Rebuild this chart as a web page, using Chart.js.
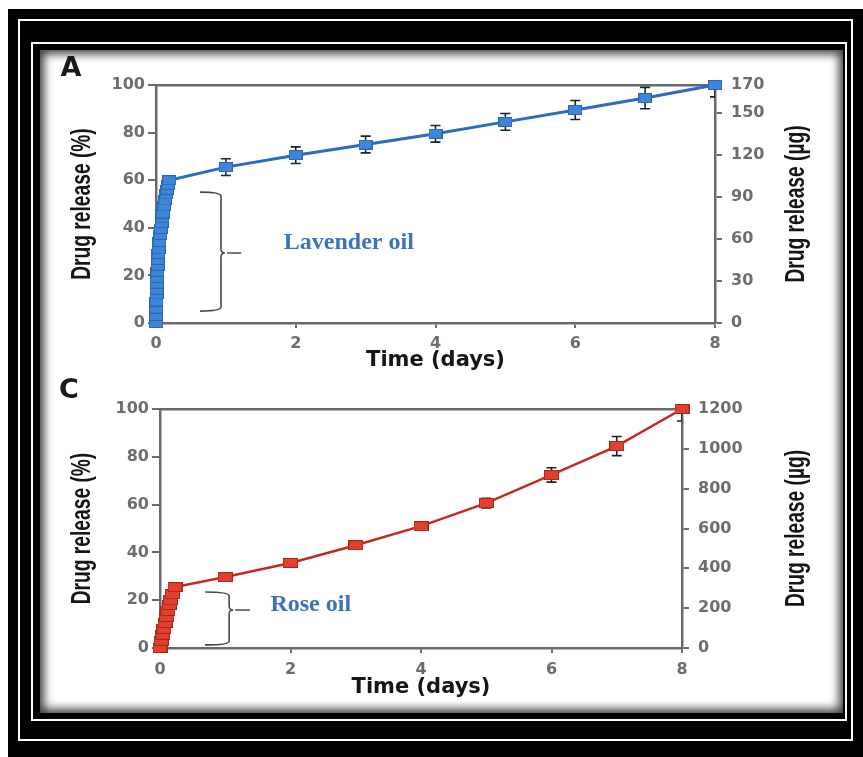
<!DOCTYPE html>
<html>
<head>
<meta charset="utf-8">
<script src="https://cdn.jsdelivr.net/npm/chart.js@4.4.0/dist/chart.umd.min.js"></script>
<style>
  html, body { margin: 0; padding: 0; background: #fff; }
  body { width: 863px; height: 757px; position: relative; overflow: hidden; }
  .frame { position: absolute; left: 8px; top: 9px; width: 855px; height: 748px; background: #000; }
  .line1 { position: absolute; left: 18px; top: 19px; width: 831px; height: 718px; border: 2px solid #fff; }
  .line2 { position: absolute; left: 31px; top: 42px; width: 812px; height: 675px; border: 2px solid #fff; }
  .panel { position: absolute; left: 40px; top: 50px; width: 803px; height: 663px; background: #fff;
           box-shadow: inset 0 0 10px 4px rgba(0,0,0,0.75); }
  canvas { position: absolute; }
  #chartA { left: 50px; top: 50px; }
  #chartC { left: 50px; top: 378px; }
</style>
</head>
<body>
<div class="frame"></div>
<div class="line1"></div>
<div class="line2"></div>
<div class="panel"></div>
<canvas id="chartA" width="790" height="325"></canvas>
<canvas id="chartC" width="790" height="325"></canvas>
<script>
// axis ticks
const dayTicks = [0, 2, 4, 6, 8];
const percentTicks = [0, 20, 40, 60, 80, 100];
const massTicksA = [0, 30, 60, 90, 120, 150, 170];
const massTicksC = [0, 200, 400, 600, 800, 1000, 1200];

// A: lavender oil (time in days, release in %)
const timesA = [0, 0.002, 0.004, 0.006, 0.008, 0.01, 0.013, 0.016, 0.02, 0.025, 0.03, 0.035, 0.04,
                0.05, 0.06, 0.07, 0.08, 0.09, 0.1, 0.115, 0.13, 0.145, 0.16, 0.175, 0.19,
                1, 2, 3, 4, 5, 6, 7, 8];
const releaseA = [0, 3, 6, 9, 12, 14, 16.5, 19, 21.5, 24, 26.5, 29, 31,
                  34, 37, 39.5, 42, 44, 46, 49, 51.5, 54, 56, 58, 60,
                  65.5, 70.5, 75, 79.5, 84.5, 89.5, 94.5, 100];
const errA = [0, 0, 0, 0, 0, 0, 0, 0, 0, 0, 0, 0, 0,
              0, 0, 0, 0, 0, 0, 0, 0, 0, 0, 0, 0,
              3.5, 3.5, 3.5, 3.5, 3.5, 4, 4.5, 5];

// C: rose oil
const timesC = [0, 0.02, 0.04, 0.06, 0.08, 0.1, 0.12, 0.14, 0.16, 0.19, 0.23,
                1, 2, 3, 4, 5, 6, 7, 8];
const releaseC = [0, 3, 5.5, 8, 10.5, 13, 15.5, 18, 20, 22.5, 25.5,
                  29.7, 35.6, 43, 51, 60.6, 72.4, 84.5, 100];
const errC = [0, 0, 0, 0, 0, 0, 0, 0, 0, 0, 0,
              1.2, 1.2, 1.2, 1.5, 2, 3, 4, 5];

const AXIS = '#6a6a6a';
const TICK_FONT = { family: 'DejaVu Sans', size: 16, weight: 'bold' };

function marker(w, h, fill, edge) {
  const c = document.createElement('canvas');
  c.width = w; c.height = h;
  const g = c.getContext('2d');
  g.fillStyle = edge; g.fillRect(0, 0, w, h);
  g.fillStyle = fill; g.fillRect(1, 1, w - 2, h - 2);
  return c;
}

// condensed vertical title (no narrow font installed, so squeeze Liberation Sans)
function sideTitle(ctx, text, x, y) {
  ctx.save();
  ctx.translate(x, y);
  ctx.rotate(-Math.PI / 2);
  ctx.scale(0.8, 1.12);
  ctx.fillStyle = '#151515';
  ctx.font = "bold 24px 'Liberation Sans', Arial, sans-serif";
  ctx.textAlign = 'center';
  ctx.textBaseline = 'middle';
  ctx.fillText(text, 0, 0);
  ctx.restore();
}

// error bars, brace and labels that chart.js doesn't do itself
const decor = {
  id: 'decor',
  beforeDatasetsDraw(chart, args, o) {
    const { ctx, chartArea: a, scales: { x, y } } = chart;
    const pts = chart.data.datasets[0].data;
    ctx.save();
    ctx.beginPath();
    ctx.rect(a.left, a.top, a.width, a.height);
    ctx.clip();
    ctx.strokeStyle = '#222';
    ctx.lineWidth = 1.6;
    o.err.forEach((e, i) => {
      if (!e) return;
      const px = x.getPixelForValue(pts[i].x);
      const y1 = y.getPixelForValue(pts[i].y - e);
      const y2 = y.getPixelForValue(pts[i].y + e);
      ctx.beginPath();
      ctx.moveTo(px, y1); ctx.lineTo(px, y2);
      ctx.moveTo(px - 5, y1); ctx.lineTo(px + 5, y1);
      ctx.moveTo(px - 5, y2); ctx.lineTo(px + 5, y2);
      ctx.stroke();
    });
    ctx.restore();
  },
  afterDraw(chart, args, o) {
    const { ctx, chartArea: a, scales: { x, y } } = chart;
    ctx.save();

    // curly brace
    const b = o.brace;
    const x0 = x.getPixelForValue(b.x0), x1 = x.getPixelForValue(b.x1), xt = x.getPixelForValue(b.tip);
    const yT = y.getPixelForValue(b.top), yB = y.getPixelForValue(b.bottom), yM = y.getPixelForValue(b.mid);
    const r = 4;
    ctx.strokeStyle = '#4a4a4a';
    ctx.lineWidth = 1.6;
    ctx.beginPath();
    ctx.moveTo(x0, yT);
    ctx.quadraticCurveTo(x1, yT, x1, yT + r);
    ctx.lineTo(x1, yM - r);
    ctx.quadraticCurveTo(x1, yM, x1 + r, yM);
    ctx.quadraticCurveTo(x1, yM, x1, yM + r);
    ctx.lineTo(x1, yB - r);
    ctx.quadraticCurveTo(x1, yB, x0, yB);
    ctx.moveTo(x1 + r + 2, yM);
    ctx.lineTo(xt, yM);
    ctx.stroke();

    // oil name
    ctx.fillStyle = '#3d72c0';
    ctx.font = "bold 24px 'Liberation Serif', 'Times New Roman', serif";
    ctx.textAlign = 'center';
    ctx.textBaseline = 'middle';
    ctx.fillText(o.note, x.getPixelForValue(o.noteX), y.getPixelForValue(o.noteY));

    // panel letter
    ctx.fillStyle = '#1a1a1a';
    ctx.font = "bold 27px 'DejaVu Sans', sans-serif";
    ctx.fillText(o.letter, o.letterPos[0], o.letterPos[1]);
    ctx.restore();

    const midY = (a.top + a.bottom) / 2;
    sideTitle(ctx, 'Drug release (%)', o.leftTitleX, midY);
    sideTitle(ctx, 'Drug release (\u00b5g)', o.rightTitleX, midY);
  }
};

function buildPanel(id, p) {
  const ctx = document.getElementById(id).getContext('2d');
  return new Chart(ctx, {
    type: 'line',
    data: {
      datasets: [{
        data: p.times.map((t, i) => ({ x: t, y: p.values[i] })),
        borderColor: p.lineColor,
        borderWidth: p.lineWidth,
        pointStyle: p.marker,
        pointRadius: 6,
        tension: 0,
        clip: false
      }]
    },
    plugins: [decor],
    options: {
      responsive: false,
      animation: false,
      events: [],
      layout: { padding: { top: p.padTop, left: 0, right: 0, bottom: 0 } },
      plugins: {
        legend: { display: false },
        tooltip: { enabled: false },
        decor: {
          err: p.err, brace: p.brace, note: p.note, noteX: p.noteX, noteY: p.noteY,
          letter: p.letter, letterPos: p.letterPos,
          leftTitleX: p.leftTitleX, rightTitleX: p.rightTitleX
        }
      },
      scales: {
        x: {
          type: 'linear', position: 'bottom', min: 0, max: 8,
          afterBuildTicks: s => { s.ticks = dayTicks.map(v => ({ value: v })); },
          afterFit: s => { s.height = p.xH; },
          grid: { drawOnChartArea: false, tickLength: 5, tickColor: AXIS, lineWidth: 2 },
          border: { color: AXIS, width: 2.5 },
          ticks: { color: '#6d6d6d', font: TICK_FONT, padding: p.xPad, maxRotation: 0, callback: v => String(v) },
          title: {
            display: true, text: 'Time (days)', color: '#151515',
            font: { family: 'DejaVu Sans', size: 21, weight: 'bold', lineHeight: 1.2 },
            padding: { top: 0, bottom: p.xTitlePad }
          }
        },
        xTop: {
          type: 'linear', position: 'top', min: 0, max: 8,
          ticks: { display: false },
          grid: { display: false },
          border: { color: AXIS, width: 2.5 },
          afterFit: s => { s.height = 0; }
        },
        y: {
          type: 'linear', position: 'left', min: 0, max: 100,
          afterBuildTicks: s => { s.ticks = percentTicks.map(v => ({ value: v })); },
          afterFit: s => { s.width = p.yW; },
          grid: { drawOnChartArea: false, tickLength: 8, tickColor: AXIS, lineWidth: 2 },
          border: { color: AXIS, width: 2.5 },
          ticks: { color: '#6d6d6d', font: TICK_FONT, padding: 3, callback: v => String(v) }
        },
        y2: {
          type: 'linear', position: 'right', min: 0, max: p.massMax,
          afterBuildTicks: s => { s.ticks = p.massTicks.map(v => ({ value: v })); },
          afterFit: s => { s.width = p.y2W; },
          grid: { drawOnChartArea: false, tickLength: 7, tickColor: AXIS, lineWidth: 2 },
          border: { color: AXIS, width: 2.5 },
          ticks: { color: '#6d6d6d', font: TICK_FONT, padding: 9, callback: v => String(v) }
        }
      }
    }
  });
}

buildPanel('chartA', {
  times: timesA, values: releaseA, err: errA,
  lineColor: '#2c6bc0', lineWidth: 3,
  marker: marker(14, 10, '#3f86d8', '#2a66b4'),
  massTicks: massTicksA, massMax: 170,
  padTop: 35, yW: 106, y2W: 125, xH: 52, xPad: 6, xTitlePad: 2,
  brace: { x0: 0.63, x1: 0.93, tip: 1.22, top: 55, bottom: 5, mid: 29.4 },
  note: 'Lavender oil', noteX: 2.76, noteY: 33.6,
  letter: 'A', letterPos: [21, 19], leftTitleX: 33, rightTitleX: 747
});

buildPanel('chartC', {
  times: timesC, values: releaseC, err: errC,
  lineColor: '#c32a1f', lineWidth: 2.5,
  marker: marker(15, 10, '#e2402e', '#a8261a'),
  massTicks: massTicksC, massMax: 1200,
  padTop: 31, yW: 110, y2W: 158, xH: 55, xPad: 7, xTitlePad: 3,
  brace: { x0: 0.69, x1: 1.06, tip: 1.38, top: 23.4, bottom: 1.3, mid: 15.9 },
  note: 'Rose oil', noteX: 2.31, noteY: 18,
  letter: 'C', letterPos: [19, 13], leftTitleX: 33, rightTitleX: 747
});
</script>
</body>
</html>
